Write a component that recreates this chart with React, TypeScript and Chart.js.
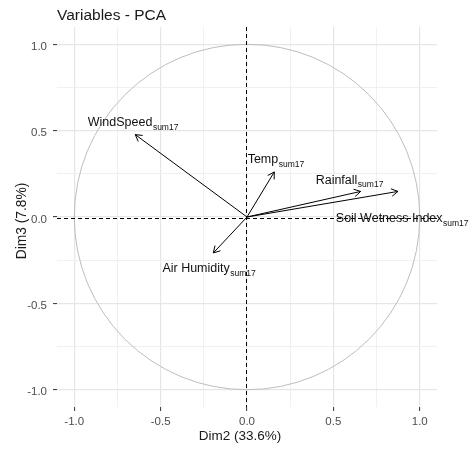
import React, { useEffect, useRef } from "react";
import { Chart, registerables } from "chart.js";

Chart.register(...registerables);

// ---- data ----
const variableNames = ["WindSpeed", "Temp", "Rainfall", "Soil Wetness Index", "Air Humidity"];
const subscriptText = "sum17";
const dim2Coord = [-0.647, 0.158, 0.658, 0.874, -0.195];
const dim3Coord = [0.477, 0.261, 0.148, 0.148, -0.208];
const labelDim2 = [-0.661, 0.166, 0.592, 0.897, -0.221];
const labelDim3 = [0.526, 0.312, 0.193, -0.031, -0.32];
const tickValues = [-1, -0.75, -0.5, -0.25, 0, 0.25, 0.5, 0.75, 1];
const majorTickValues = [-1, -0.5, 0, 0.5, 1];
const axisMin = -1.1;
const axisMax = 1.1;
const titleText = "Variables - PCA";
const xTitleText = "Dim2 (33.6%)";
const yTitleText = "Dim3 (7.8%)";

const FONT = "'Liberation Sans', Arial, Helvetica, sans-serif";

const isMajor = (v: number) => majorTickValues.some((m) => Math.abs(m - v) < 1e-9);

const overlayPlugin = {
  id: "pcaOverlay",
  beforeDatasetsDraw(chart: any) {
    const { ctx, chartArea, scales } = chart;
    const x = scales.x;
    const y = scales.y;
    const cx = x.getPixelForValue(0);
    const cy = y.getPixelForValue(0);
    const rx = x.getPixelForValue(1) - cx;
    const ry = cy - y.getPixelForValue(1);
    ctx.save();
    ctx.beginPath();
    ctx.ellipse(cx, cy, rx, ry, 0, 0, Math.PI * 2);
    ctx.strokeStyle = "#bdbdbd";
    ctx.lineWidth = 1;
    ctx.stroke();
    ctx.setLineDash([4, 3]);
    ctx.strokeStyle = "#000000";
    ctx.lineWidth = 1;
    ctx.beginPath();
    ctx.moveTo(chartArea.left, Math.floor(cy) + 1.5);
    ctx.lineTo(chartArea.right, Math.floor(cy) + 1.5);
    ctx.moveTo(Math.floor(cx) - 0.5, chartArea.top);
    ctx.lineTo(Math.floor(cx) - 0.5, chartArea.bottom);
    ctx.stroke();
    ctx.restore();
  },
  afterDatasetsDraw(chart: any) {
    const { ctx, scales } = chart;
    const x = scales.x;
    const y = scales.y;
    ctx.save();
    ctx.strokeStyle = "#000000";
    ctx.lineWidth = 1;
    const ox = x.getPixelForValue(0);
    const oy = y.getPixelForValue(0);
    for (let i = 0; i < dim2Coord.length; i++) {
      const tx = x.getPixelForValue(dim2Coord[i]);
      const ty = y.getPixelForValue(dim3Coord[i]);
      const ang = Math.atan2(ty - oy, tx - ox);
      const len = 7.5;
      const a = Math.PI / 6;
      ctx.beginPath();
      ctx.moveTo(tx - len * Math.cos(ang - a), ty - len * Math.sin(ang - a));
      ctx.lineTo(tx, ty);
      ctx.lineTo(tx - len * Math.cos(ang + a), ty - len * Math.sin(ang + a));
      ctx.stroke();
    }
    ctx.fillStyle = "#111111";
    ctx.textBaseline = "alphabetic";
    ctx.textAlign = "left";
    const mainFont = `12.5px ${FONT}`;
    const subFont = `8.5px ${FONT}`;
    for (let i = 0; i < variableNames.length; i++) {
      const px = x.getPixelForValue(labelDim2[i]);
      const py = y.getPixelForValue(labelDim3[i]);
      ctx.font = mainFont;
      const mw = ctx.measureText(variableNames[i]).width;
      ctx.font = subFont;
      const sw = ctx.measureText(subscriptText).width;
      const start = px - (mw + sw) / 2;
      ctx.font = mainFont;
      ctx.fillText(variableNames[i], start, py);
      ctx.font = subFont;
      ctx.fillText(subscriptText, start + mw + 0.5, py + 3.5);
    }
    ctx.restore();
  },
  afterDraw(chart: any) {
    const { ctx } = chart;
    ctx.save();
    ctx.fillStyle = "#1a1a1a";
    ctx.textBaseline = "alphabetic";
    ctx.textAlign = "left";
    ctx.font = `15.5px ${FONT}`;
    ctx.fillText(titleText, 57, 20);
    ctx.font = `13.5px ${FONT}`;
    ctx.textAlign = "center";
    ctx.textBaseline = "middle";
    ctx.fillText(xTitleText, 240, 436);
    ctx.font = `13.8px ${FONT}`;
    ctx.translate(22.5, 221);
    ctx.rotate(-Math.PI / 2);
    ctx.fillText(yTitleText, 0, 0);
    ctx.restore();
  },
};

function makeScale(isX: boolean) {
  return {
    type: "linear" as const,
    min: axisMin,
    max: axisMax,
    afterBuildTicks: (s: any) => {
      s.ticks = tickValues.map((v) => ({ value: v }));
    },
    afterFit: (s: any) => {
      if (isX) s.height = 45;
      else s.width = 57;
    },
    ticks: {
      autoSkip: false,
      maxRotation: 0,
      padding: isX ? 3.5 : 6,
      labelOffset: isX ? 0 : 2.5,
      color: "#4d4d4d",
      font: { family: FONT, size: 11.5 },
      callback: (v: any) => (isMajor(Number(v)) ? Number(v).toFixed(1) : ""),
    },
    grid: {
      drawTicks: true,
      tickLength: 4,
      tickWidth: 1,
      color: (c: any) => (c.tick && isMajor(c.tick.value) ? "#e6e6e6" : "#eeeeee"),
      lineWidth: (c: any) => (c.tick && isMajor(c.tick.value) ? 1.2 : 0.9),
      tickColor: (c: any) => (c.tick && isMajor(c.tick.value) ? "#333333" : "rgba(0,0,0,0)"),
    },
    border: { display: false },
  };
}

export default function App() {
  const ref = useRef<HTMLCanvasElement | null>(null);
  useEffect(() => {
    if (!ref.current) return;
    const datasets = variableNames.map((name, i) => ({
      label: name,
      data: [
        { x: 0, y: 0 },
        { x: dim2Coord[i], y: dim3Coord[i] },
      ],
      showLine: true,
      borderColor: "#000000",
      backgroundColor: "#000000",
      borderWidth: 1,
      pointRadius: 0,
      pointHoverRadius: 0,
    }));
    const chart = new Chart(ref.current, {
      type: "scatter",
      data: { datasets },
      options: {
        responsive: false,
        animation: false,
        devicePixelRatio: 1,
        layout: { padding: { top: 27, right: 39, left: 0, bottom: 0 } },
        plugins: {
          legend: { display: false },
          tooltip: { enabled: false },
          title: { display: false },
        },
        scales: {
          x: makeScale(true),
          y: makeScale(false),
        },
      },
      plugins: [overlayPlugin],
    });
    return () => chart.destroy();
  }, []);
  return (
    <div style={{ position: "absolute", left: 0, top: 0, width: 476, height: 452, background: "#ffffff" }}>
      <canvas ref={ref} width={476} height={452} style={{ width: 476, height: 452, display: "block" }} />
    </div>
  );
}
